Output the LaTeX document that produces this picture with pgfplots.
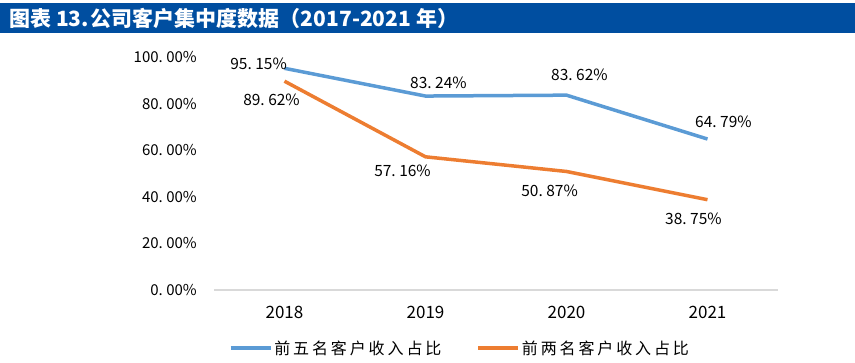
\documentclass[border=0pt]{standalone}
\usepackage{fontspec}
\setmainfont{Noto Sans CJK SC}
\newfontfamily\legfont[LetterSpace=18]{Noto Sans CJK SC}
\usepackage{pgfplots}
\pgfplotsset{compat=1.18}
\definecolor{titlebg}{RGB}{0,78,160}
\definecolor{sblue}{RGB}{91,155,213}
\definecolor{sorange}{RGB}{237,125,49}
\definecolor{gridgray}{RGB}{217,217,217}
\newcommand{\dsp}{\hspace{3.5pt}}
\begin{document}
\begin{tikzpicture}
\path[use as bounding box] (0,0) rectangle (855pt,362pt);
\fill[titlebg] (0,329pt) rectangle (855pt,359pt);
\node[anchor=west, text=white, inner sep=0, font=\fontsize{21}{24}\selectfont\bfseries] at (9pt,344pt) {图表 13.\hspace{2pt}公司客户集中度数据（2017-2021 年）};
\begin{axis}[
  at={(214pt,72pt)}, anchor=south west,
  scale only axis, width=564pt, height=233pt,
  xmin=-0.5, xmax=3.5, ymin=0, ymax=100,
  axis x line*=bottom, axis y line*=left,
  y axis line style={draw=none},
  x axis line style={draw=gridgray, line width=1.5pt},
  major tick length=0pt,
  xtick={0,1,2,3}, xticklabels={2018,2019,2020,2021},
  ytick={0,20,40,60,80,100},
  yticklabels={0.\dsp00\%,20.\dsp00\%,40.\dsp00\%,60.\dsp00\%,80.\dsp00\%,100.\dsp00\%},
  ticklabel style={font=\fontsize{15}{18}\selectfont, inner sep=0pt},
  xticklabel style={anchor=center, yshift=-22pt, font=\fontsize{17}{20}\selectfont},
  yticklabel style={anchor=east, xshift=-17pt},
  legend style={at={(0.436,-0.249)}, anchor=center, draw=none, fill=none,
    legend columns=2, font=\legfont\fontsize{16}{19}\selectfont,
    /tikz/every even column/.append style={column sep=33pt}},
  legend image code/.code={\draw[#1, line width=3.5pt] (0pt,0pt) -- (40pt,0pt);},
  clip=false,
]
\addplot[sblue, line width=3.5pt, line join=round] coordinates {(0,95.15) (1,83.24) (2,83.62) (3,64.79)};
\addlegendentry{前五名客户收入占比}
\addplot[sorange, line width=3.5pt, line join=round] coordinates {(0,89.62) (1,57.16) (2,50.87) (3,38.75)};
\addlegendentry{前两名客户收入占比}
\begin{scope}[every node/.style={font=\fontsize{15.5}{18}\selectfont, inner sep=0pt}]
\node at (axis cs:-0.184,97.0) {95.\dsp15\%};
\node at (axis cs:-0.092,81.5) {89.\dsp62\%};
\node at (axis cs:1.092,88.8) {83.\dsp24\%};
\node at (axis cs:0.837,51.1) {57.\dsp16\%};
\node at (axis cs:2.092,92.3) {83.\dsp62\%};
\node at (axis cs:1.88,42.5) {50.\dsp87\%};
\node at (axis cs:3.113,72.1) {64.\dsp79\%};
\node at (axis cs:2.90,30.5) {38.\dsp75\%};
\end{scope}
\end{axis}
\end{tikzpicture}
\end{document}
